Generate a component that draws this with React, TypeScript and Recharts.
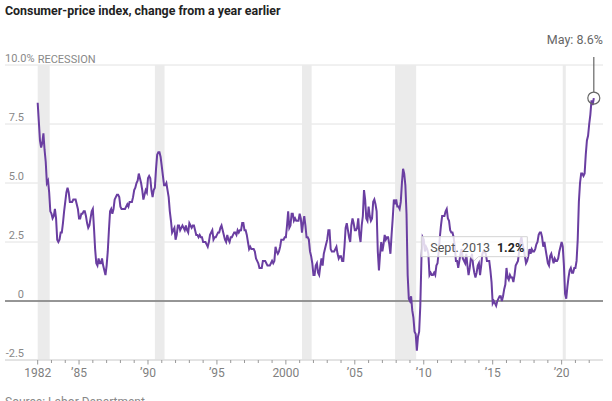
import React from 'react'
import { ComposedChart, Line, XAxis, YAxis, CartesianGrid, ReferenceArea, ReferenceLine, ReferenceDot } from 'recharts'

const FONT = "'Liberation Sans Narrow', Roboto, sans-serif"
const PURPLE = '#6a3ea1'

// monthly CPI, % change from a year earlier (Jan..Dec)
const cpi1980s = [
  8.4, 7.6, 6.8, 6.5, 6.7, 7.1, 6.4, 5.9, 5.0, 5.1, 4.6, 3.8,
  3.7, 3.5, 3.6, 3.9, 3.5, 2.6, 2.5, 2.6, 2.9, 2.9, 3.3, 3.8,
  4.2, 4.6, 4.8, 4.6, 4.2, 4.2, 4.2, 4.3, 4.3, 4.3, 4.1, 3.9,
  3.5, 3.5, 3.7, 3.7, 3.8, 3.8, 3.6, 3.3, 3.1, 3.2, 3.5, 3.8,
  3.9, 3.1, 2.2, 1.6, 1.5, 1.8, 1.6, 1.6, 1.8, 1.5, 1.3, 1.1,
  1.5, 2.1, 3.0, 3.8, 3.9, 3.7, 3.9, 4.3, 4.4, 4.5, 4.5, 4.4,
  4.0, 3.9, 3.9, 3.9, 3.9, 4.0, 4.1, 4.0, 4.2, 4.2, 4.2, 4.4,
  4.7, 4.8, 5.0, 5.1, 5.4, 5.2, 5.0, 4.7, 4.3, 4.5, 4.7, 4.6,
]
const cpi1990s = [
  5.2, 5.3, 5.2, 4.7, 4.4, 4.7, 4.8, 5.6, 6.2, 6.3, 6.3, 6.1,
  5.7, 5.3, 4.9, 4.9, 5.0, 4.7, 4.4, 3.8, 3.4, 2.9, 3.0, 3.1,
  2.6, 2.8, 3.2, 3.2, 3.0, 3.1, 3.2, 3.1, 3.0, 3.2, 3.0, 2.9,
  3.3, 3.2, 3.1, 3.2, 3.2, 3.0, 2.8, 2.8, 2.7, 2.8, 2.7, 2.7,
  2.5, 2.5, 2.5, 2.4, 2.3, 2.5, 2.8, 2.9, 3.0, 2.6, 2.7, 2.7,
  2.8, 2.9, 2.9, 3.1, 3.2, 3.0, 2.8, 2.6, 2.5, 2.8, 2.6, 2.5,
  2.7, 2.7, 2.8, 2.9, 2.9, 2.8, 3.0, 2.9, 3.0, 3.0, 3.3, 3.3,
  3.0, 3.0, 2.8, 2.5, 2.2, 2.3, 2.2, 2.2, 2.2, 2.1, 1.8, 1.7,
  1.6, 1.4, 1.4, 1.4, 1.7, 1.7, 1.7, 1.6, 1.5, 1.5, 1.5, 1.6,
  1.7, 1.6, 1.7, 2.3, 2.1, 2.0, 2.1, 2.3, 2.6, 2.6, 2.6, 2.7,
]
const cpi2000s = [
  2.7, 3.2, 3.8, 3.1, 3.2, 3.7, 3.7, 3.4, 3.5, 3.4, 3.4, 3.4,
  3.7, 3.5, 2.9, 3.3, 3.6, 3.2, 2.7, 2.7, 2.6, 2.1, 1.9, 1.6,
  1.1, 1.1, 1.5, 1.6, 1.2, 1.1, 1.5, 1.8, 1.5, 2.0, 2.2, 2.4,
  2.6, 3.0, 3.0, 2.2, 2.1, 2.1, 2.1, 2.2, 2.3, 2.0, 1.8, 1.9,
  1.9, 1.7, 1.7, 2.3, 3.1, 3.3, 3.0, 2.7, 2.5, 3.2, 3.5, 3.3,
  3.0, 3.0, 3.1, 3.5, 2.8, 2.5, 3.2, 3.6, 4.7, 4.3, 3.5, 3.4,
  4.0, 3.6, 3.4, 3.5, 4.2, 4.3, 4.1, 3.8, 2.1, 1.3, 2.0, 2.5,
  2.1, 2.4, 2.8, 2.6, 2.7, 2.7, 2.4, 2.0, 2.8, 3.5, 4.3, 4.1,
  4.3, 4.0, 4.0, 3.9, 4.2, 5.0, 5.6, 5.4, 4.9, 3.7, 1.1, 0.1,
  0.0, 0.2, -0.4, -0.7, -1.3, -1.4, -2.1, -1.5, -1.3, -0.2, 1.8, 2.7,
]
const cpi2010s = [
  2.6, 2.1, 2.3, 2.2, 2.0, 1.1, 1.2, 1.1, 1.1, 1.2, 1.1, 1.5,
  1.6, 2.1, 2.7, 3.2, 3.6, 3.6, 3.6, 3.8, 3.9, 3.5, 3.4, 3.0,
  2.9, 2.9, 2.7, 2.3, 1.7, 1.7, 1.4, 1.7, 2.0, 2.2, 1.8, 1.7,
  1.6, 2.0, 1.5, 1.1, 1.4, 1.8, 2.0, 1.5, 1.2, 1.0, 1.2, 1.5,
  1.6, 1.1, 1.5, 2.0, 2.1, 2.1, 2.0, 1.7, 1.7, 1.7, 1.3, 0.8,
  -0.1, 0.0, -0.1, -0.2, 0.0, 0.1, 0.2, 0.2, 0.0, 0.2, 0.5, 0.7,
  1.4, 1.0, 0.9, 1.1, 1.0, 1.0, 0.8, 1.1, 1.5, 1.6, 1.7, 2.1,
  2.5, 2.7, 2.4, 2.2, 1.9, 1.6, 1.7, 1.9, 2.2, 2.0, 2.2, 2.1,
  2.1, 2.2, 2.4, 2.5, 2.8, 2.9, 2.9, 2.7, 2.3, 2.5, 2.2, 1.9,
  1.6, 1.5, 1.9, 2.0, 1.8, 1.6, 1.8, 1.7, 1.7, 1.8, 2.1, 2.3,
]
const cpi2020s = [
  2.5, 2.3, 1.5, 0.3, 0.1, 0.6, 1.0, 1.3, 1.4, 1.2, 1.2, 1.4,
  1.4, 1.7, 2.6, 4.2, 5.0, 5.4, 5.4, 5.3, 5.4, 6.2, 6.8, 7.0,
  7.5, 7.9, 8.5, 8.3, 8.6,
]

// recessions as [start, end] in decimal years (first one clipped at chart start)
const recessions = [
  [1982.0, 1982.87],
  [1990.5, 1991.2],
  [2001.17, 2001.87],
  [2007.92, 2009.45],
  [2020.08, 2020.3],
]

const yTicks = [-2.5, 0, 2.5, 5, 7.5, 10]
const yLabels = ['-2.5', '0', '2.5', '5.0', '7.5', '10.0%']
const years = Array.from({ length: 41 }, (_, i) => 1982 + i)
const xLabels: Record<number, string> = {
  1982: '1982', 1985: '\u201985', 1990: '\u201990', 1995: '\u201995', 2000: '2000',
  2005: '\u201905', 2010: '\u201910', 2015: '\u201915', 2020: '\u201920',
}

const calloutLabel = 'Sept. 2013'
const calloutT = 2013 + 8 / 12
const calloutValue = 1.2

const series: Array<[number, number[]]> = [[1982, cpi1980s], [1990, cpi1990s], [2000, cpi2000s], [2010, cpi2010s], [2020, cpi2020s]]
const data = series.flatMap(([start, vals]) => vals.map((v, i) => ({ t: start + i / 12, cpi: v })))
const last = data[data.length - 1]

function YTick({ y, payload }: any) {
  const i = yTicks.indexOf(payload.value)
  const label = yLabels[i]
  const isTop = payload.value === 10
  return (
    <text x={isTop ? 5 : 24} y={y - 3} textAnchor={isTop ? 'start' : 'end'} fontSize={11} fill="#888" fontFamily={FONT}>
      {label}
    </text>
  )
}

// axis y is fixed by the plot bottom; ticks hang just under it
function XTick({ x, payload }: any) {
  const label = xLabels[payload.value]
  const axisY = 360
  return (
    <g>
      <line x1={x} x2={x} y1={axisY} y2={axisY + (label ? 4.5 : 3)} stroke="#999" strokeWidth={1} />
      {label && (
        <text x={x} y={axisY + 17} textAnchor="middle" fontSize={12} fill="#808080" fontFamily={FONT}>
          {label}
        </text>
      )}
    </g>
  )
}

function MayMarker({ cx, cy }: any) {
  return (
    <g>
      <line x1={cx} x2={cx} y1={cy - 6} y2={57} stroke="#666" strokeWidth={1.2} />
      <circle cx={cx} cy={cy} r={6} fill="none" stroke="#666" strokeWidth={1.2} />
      <text x={603} y={44} textAnchor="end" fontSize={12.5} fill="#666" fontFamily={FONT}>
        May: {last.cpi.toFixed(1)}%
      </text>
    </g>
  )
}

function Callout({ cx, cy }: any) {
  const top = cy - 36
  const bottom = cy - 16
  const left = cx - 53
  const right = cx + 53
  const d = `M${left},${top} H${right} V${bottom} H${cx + 4} L${cx},${bottom + 4} L${cx - 4},${bottom} H${left} Z`
  return (
    <g>
      <path d={d} fill="#fff" fillOpacity={0.8} stroke="#d4d4d4" strokeWidth={1} />
      <text x={left + 9} y={bottom - 5} fontSize={12.5} fill="#555" fontFamily={FONT}>
        {calloutLabel}
        <tspan dx={7} fontWeight={700} fill="#222">{calloutValue.toFixed(1)}%</tspan>
      </text>
    </g>
  )
}

function RecessionLabel({ viewBox }: any) {
  return (
    <text x={viewBox.x} y={viewBox.y - 2} fontSize={11} fill="#888" fontFamily={FONT}>
      RECESSION
    </text>
  )
}

export default function App() {
  return (
    <div style={{ position: 'absolute', left: 0, top: 0, width: 612, height: 401, background: '#fff', overflow: 'hidden', fontFamily: FONT }}>
      <div style={{ position: 'absolute', left: 5, top: 3, fontSize: 13.2, fontWeight: 700, color: '#222', whiteSpace: 'nowrap', transform: 'scaleX(0.94)', transformOrigin: 'left top' }}>
        Consumer-price index, change from a year earlier
      </div>
      <div style={{ position: 'absolute', left: 5, top: 395, fontSize: 12, color: '#888', whiteSpace: 'nowrap' }}>
        Source: Labor Department
      </div>
      <ComposedChart width={612} height={401} data={data} margin={{ top: 65, right: 9, bottom: 11, left: 5 }}>
        <CartesianGrid vertical={false} stroke="#e2e2e2" strokeWidth={1} />
        {recessions.map(([a, b], i) => (
          <ReferenceArea
            key={i}
            x1={a}
            x2={b}
            y1={-2.5}
            y2={10}
            fill="#ebebeb"
            fillOpacity={1}
            strokeOpacity={0}
            label={i === 0 ? <RecessionLabel /> : undefined}
          />
        ))}
        <XAxis
          type="number"
          dataKey="t"
          domain={[1979.63, 2023]}
          ticks={years}
          interval={0}
          allowDataOverflow
          axisLine={{ stroke: '#d6d6d6', strokeWidth: 1 }}
          tickLine={false}
          tick={<XTick />}
          height={30}
        />
        <YAxis
          type="number"
          domain={[-2.5, 10]}
          ticks={yTicks}
          interval={0}
          mirror
          axisLine={false}
          tickLine={false}
          tick={<YTick />}
        />
        <ReferenceLine y={0} stroke="#777" strokeWidth={1.5} />
        <Line dataKey="cpi" stroke={PURPLE} strokeWidth={2} dot={false} isAnimationActive={false} />
        <ReferenceDot x={calloutT} y={calloutValue} r={0} shape={<Callout />} />
        <ReferenceDot x={last.t} y={last.cpi} r={6} shape={<MayMarker />} />
      </ComposedChart>
    </div>
  )
}
